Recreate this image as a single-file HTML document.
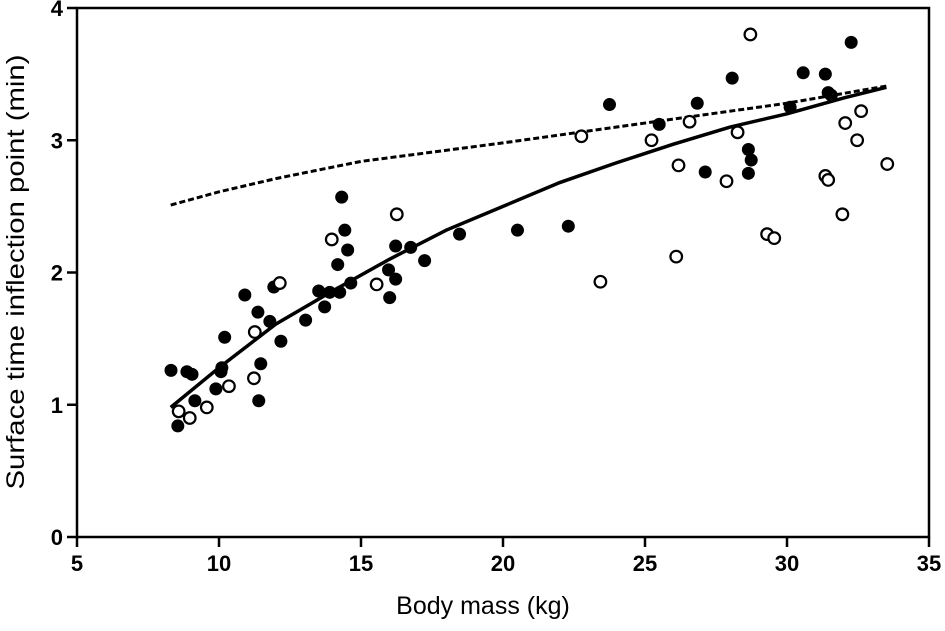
<!DOCTYPE html>
<html><head><meta charset="utf-8"><style>
html,body{margin:0;padding:0;background:#fff;}
svg{display:block;font-family:"Liberation Sans",Arial,sans-serif;}
</style></head><body>
<svg id="chart" width="945" height="631" viewBox="0 0 945 631">
<g id="axes"></g><g id="lines"></g><g id="points"></g>
<text x="483" y="614" text-anchor="middle" font-size="25">Body mass (kg)</text>
<text transform="translate(24,272) rotate(-90)" text-anchor="middle" font-size="25" textLength="435" lengthAdjust="spacingAndGlyphs">Surface time inflection point (min)</text>
</svg>
<script>
const xTicks=[5,10,15,20,25,30,35];
const yTicks=[0,1,2,3,4];
const filledX=[8.31,8.55,8.87,9.05,9.15,9.89,10.07,10.1,10.2,10.91,11.37,11.40,11.47,11.79,11.93,12.18,13.05,13.51,13.72,13.9,14.18,14.25,14.32,14.43,14.53,14.64,15.97,16.01,16.22,16.22,16.75,17.24,18.47,20.51,22.3,23.75,25.5,26.84,27.12,28.07,28.64,28.64,28.74,30.11,30.57,31.35,31.45,31.56,32.26];
const filledY=[1.26,0.84,1.25,1.23,1.03,1.12,1.25,1.28,1.51,1.83,1.70,1.03,1.31,1.63,1.89,1.48,1.64,1.86,1.74,1.85,2.06,1.85,2.57,2.32,2.17,1.92,2.02,1.81,2.20,1.95,2.19,2.09,2.29,2.32,2.35,3.27,3.12,3.28,2.76,3.47,2.93,2.75,2.85,3.25,3.51,3.50,3.36,3.34,3.74];
const openX=[8.58,8.97,9.57,10.35,11.23,11.26,12.14,13.97,16.26,15.55,22.76,23.43,25.23,26.1,26.18,26.57,27.87,28.26,28.71,29.3,29.55,31.35,31.45,31.95,32.05,32.47,32.61,33.53];
const openY=[0.95,0.90,0.98,1.14,1.20,1.55,1.92,2.25,2.44,1.91,3.03,1.93,3.00,2.12,2.81,3.14,2.69,3.06,3.80,2.29,2.26,2.73,2.70,2.44,3.13,3.00,3.22,2.82];
const fitX=[8.3,10,12,14,16,18,20,22,24,26,28,30,32,33.5];
const fitY=[0.98,1.28,1.61,1.86,2.10,2.32,2.50,2.68,2.83,2.97,3.10,3.20,3.32,3.40];
const dashX=[8.3,10,12,15,20,25,30,33.5];
const dashY=[2.51,2.61,2.71,2.84,2.98,3.13,3.28,3.41];

const X0=77,X1=929,Y0=537,Y1=8;
const sx=v=>X0+(v-5)/30*(X1-X0);
const sy=v=>Y0-v/4*(Y0-Y1);
const NS="http://www.w3.org/2000/svg";
function mk(tag,attrs,parent){const e=document.createElementNS(NS,tag);for(const k in attrs)e.setAttribute(k,attrs[k]);parent.appendChild(e);return e;}
const axes=document.getElementById('axes');
const frame=mk('rect',{x:X0,y:Y1,width:X1-X0,height:Y0-Y1,fill:'none',stroke:'#000','stroke-width':2.5},axes);


xTicks.forEach(t=>{
  const l=mk('line',{x1:sx(t),x2:sx(t),y1:Y0,y2:Y0+10,stroke:'#000','stroke-width':2.5},axes);
  
  
  const tx=mk('text',{x:sx(t),y:Y0+34,'text-anchor':'middle','font-size':22,'font-weight':'bold'},axes);
  tx.textContent=t;
  
  
});
yTicks.forEach(t=>{
  const l=mk('line',{x1:X0-10,x2:X0,y1:sy(t),y2:sy(t),stroke:'#000','stroke-width':2.5},axes);
  
  
  const tx=mk('text',{x:X0-14,y:sy(t)+8,'text-anchor':'end','font-size':22,'font-weight':'bold'},axes);
  tx.textContent=t;
  
  
});
const lines=document.getElementById('lines');
const fit=mk('polyline',{points:fitX.map((x,i)=>sx(x)+','+sy(fitY[i])).join(' '),fill:'none',stroke:'#000','stroke-width':3.5},lines);


const dash=mk('polyline',{points:dashX.map((x,i)=>sx(x)+','+sy(dashY[i])).join(' '),fill:'none',stroke:'#000','stroke-width':3,'stroke-dasharray':'6,3'},lines);


const pts=document.getElementById('points');
filledX.forEach((x,i)=>{
  const c=mk('circle',{cx:sx(x),cy:sy(filledY[i]),r:6.5,fill:'#000'},pts);
  
  
});
openX.forEach((x,i)=>{
  const c=mk('circle',{cx:sx(x),cy:sy(openY[i]),r:5.8,fill:'#fff',stroke:'#000','stroke-width':2.2},pts);
  
  
});
</script>
</body></html>
